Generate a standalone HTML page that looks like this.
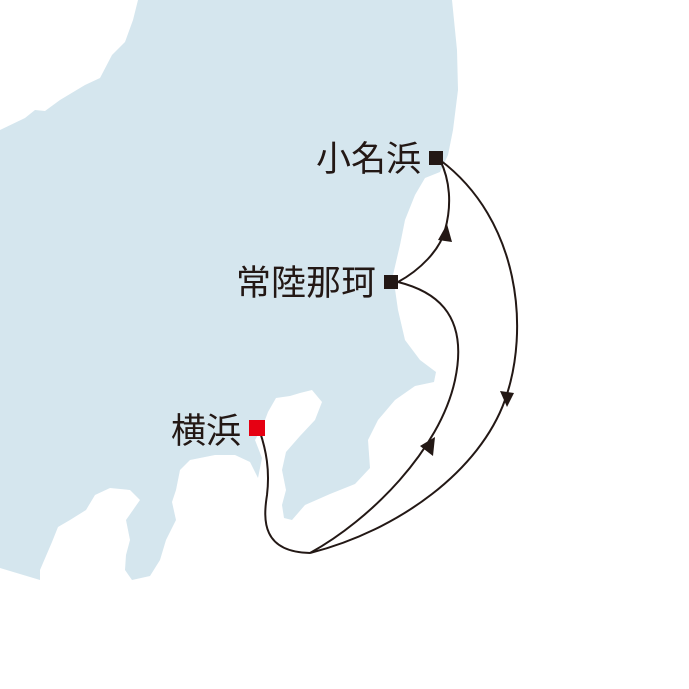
<!DOCTYPE html>
<html><head><meta charset="utf-8"><style>
html,body{margin:0;padding:0;background:#fff;}
svg{display:block}
text{font-family:"Liberation Sans","Noto Sans CJK JP",sans-serif;font-size:35px;fill:#231815}
</style></head><body>
<svg width="689" height="689" viewBox="0 0 689 689" xmlns="http://www.w3.org/2000/svg">
<path fill="#d5e6ee" d="M0,130 L25,118 L35,110 L45,111 L60,100 L85,85 L100,78 L112,55 L125,42 L133,20 L138,0 L452,0 L457,50 L458,90 L453,130 L448,155 L440,172 L425,178 L415,195 L405,220 L400,245 L393,275 L398,310 L405,340 L420,360 L436,372 L434,382 L415,386 L395,400 L378,420 L368,440 L370,468 L355,484 L330,494 L305,505 L292,520 L284,518 L282,505 L286,490 L282,470 L286,452 L300,436 L315,420 L322,402 L312,390 L300,393 L290,396 L276,398 L268,412 L262,428 L255,440 L262,458 L258,478 L250,462 L235,455 L215,455 L190,460 L180,470 L176,490 L172,502 L176,520 L166,540 L160,560 L150,576 L132,580 L125,570 L126,555 L130,540 L126,520 L140,500 L130,490 L110,488 L95,495 L86,510 L70,520 L58,527 L52,542 L40,570 L40,580 L0,568 Z"/>
<g fill="none" stroke="#231815" stroke-width="2">
<path d="M260,432 C266,450 270,470 267,495 C263,520 262,552 310,553"/>
<path d="M310,553 C370,520 440,450 455,380 C470,310 430,290 398,282"/>
<path d="M310,553 C400,530 480,470 505,400 C530,330 520,220 440,160"/>
<path d="M398,282 C420,270 440,250 445,230 C452,205 450,180 440,160"/>
</g>
<g fill="#231815">
<polygon points="435,437 420,446 433,456"/>
<polygon points="507,407 500,391 514,393"/>
<polygon points="447,224 438,240 452,242"/>
<rect x="429" y="151" width="14" height="14"/>
<rect x="384" y="275" width="14" height="14"/>
</g>
<rect x="249" y="420" width="16" height="16" fill="#e60012"/>
<text x="421" y="171" text-anchor="end">小名浜</text>
<text x="376" y="295" text-anchor="end">常陸那珂</text>
<text x="241" y="443" text-anchor="end">横浜</text>
</svg>
</body></html>
